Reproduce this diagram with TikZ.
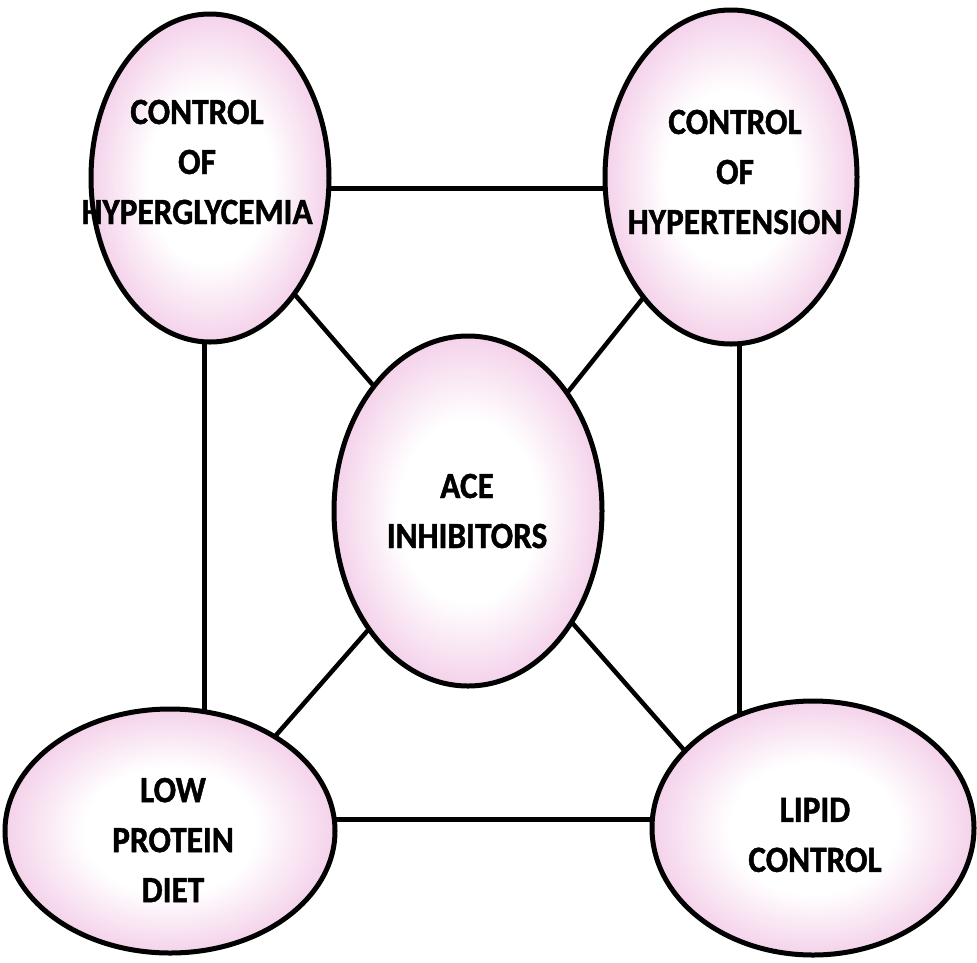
\documentclass[tikz,border=0pt]{standalone}
\usepackage{fontspec}
\setmainfont{Carlito}[FakeStretch=0.9, BoldFeatures={FakeBold=1.2}]
\usetikzlibrary{shapes.geometric,backgrounds}
\definecolor{ellpink}{RGB}{244,210,234}
\pgfdeclareradialshading{ellshade}{\pgfpoint{0bp}{0bp}}{color(0bp)=(white); color(13bp)=(white); color(25bp)=(ellpink); color(50bp)=(ellpink)}
\tikzset{
  bubble/.style={ellipse, draw=black, line width=5pt, shading=ellshade, inner sep=0pt, outer sep=0pt},
  lbl/.style={align=center, font=\fontsize{37}{50}\selectfont\bfseries, inner sep=0pt},
  link/.style={draw=black, line width=4.5pt}
}
\begin{document}
\begin{tikzpicture}[x=1pt,y=-1pt]
\useasboundingbox (0,0) rectangle (977,962);
\node[bubble, minimum width=238pt, minimum height=328pt] (tl) at (210,178) {};
\node[bubble, minimum width=252pt, minimum height=334pt] (tr) at (731,177) {};
\node[bubble, minimum width=268pt, minimum height=350pt] (c) at (468,511) {};
\node[bubble, minimum width=330pt, minimum height=244pt] (bl) at (170,831) {};
\node[bubble, minimum width=322pt, minimum height=254pt] (br) at (813,828) {};
\node[lbl] (tltext) at (197,162) {CONTROL\\OF\\HYPERGLYCEMIA};
\node[lbl] (trtext) at (735,172) {CONTROL\\OF\\HYPERTENSION};
\node[lbl] (ctext) at (467,511) {ACE\\INHIBITORS};
\node[lbl] (bltext) at (173,840) {LOW\\PROTEIN\\DIET};
\node[lbl] (brtext) at (815,835) {LIPID\\CONTROL};
\begin{scope}[on background layer]
\draw[link] (tl.-5) -- (tl.-5 -| tr.center);
\draw[link] (bl.4) -- (bl.4 -| br.center);
\draw[link] (tl.-92) -- (tl.-92 |- bl.center);
\draw[link] (tr.-87) -- (tr.-87 |- br.center);
\draw[link] (tl.-54) -- (c.127);
\draw[link] (tr.-126) -- (c.50);
\draw[link] (bl.42) -- (c.-130);
\draw[link] (br.149) -- (c.-47);
\end{scope}
\end{tikzpicture}
\end{document}
